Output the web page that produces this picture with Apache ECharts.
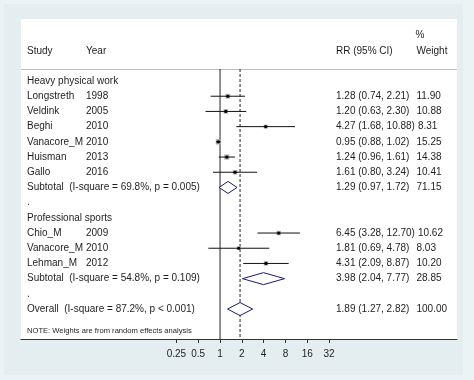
<!DOCTYPE html>
<html><head><meta charset="utf-8">
<script src="https://cdn.jsdelivr.net/npm/echarts@6/dist/echarts.min.js"></script>
<style>html,body{margin:0;padding:0;background:#ecf3f5}#c{width:474px;height:380px}</style>
</head><body><div id="c"></div>
<script>
// ---- data ----
const groups = ['Heavy physical work', 'Professional sports'];
const studies = ['Longstreth', 'Veldink', 'Beghi', 'Vanacore_M', 'Huisman', 'Gallo', 'Chio_M', 'Vanacore_M', 'Lehman_M'];
const years = [1998, 2005, 2010, 2010, 2013, 2016, 2009, 2010, 2012];
const studyGroup = [0, 0, 0, 0, 0, 0, 1, 1, 1];
const rr = [1.28, 1.20, 4.27, 0.95, 1.24, 1.61, 6.45, 1.81, 4.31];
const ciLow = [0.74, 0.63, 1.68, 0.88, 0.96, 0.80, 3.28, 0.69, 2.09];
const ciHigh = [2.21, 2.30, 10.88, 1.02, 1.61, 3.24, 12.70, 4.78, 8.87];
const weights = [11.90, 10.88, 8.31, 15.25, 14.38, 10.41, 10.62, 8.03, 10.20];
const subRR = [1.29, 3.98];
const subLow = [0.97, 2.04];
const subHigh = [1.72, 7.77];
const subWeight = [71.15, 28.85];
const subI2 = [69.8, 54.8];
const subP = ['p = 0.005', 'p = 0.109'];
const overallRR = 1.89, overallLow = 1.27, overallHigh = 2.82, overallWeight = 100.00;
const overallI2 = 87.2, overallP = 'p < 0.001';
const tickValues = [0.25, 0.5, 1, 2, 4, 8, 16, 32];
const noteText = 'NOTE: Weights are from random effects analysis';

// ---- layout ----
const FONT = '"Liberation Sans", Arial, sans-serif';
const X_MIN = -9.13, X_MAX = 10.87;   // log2 extent of the panel
const Y_MIN = -4.08, Y_MAX = 16.97;   // row extent
const HEADER_ROW = -0.79;
const COL_STUDY = 27, COL_YEAR = 86, COL_RR = 336, COL_W = 416.5;
const TXT = '#1e1e1e';

const lg = v => Math.log2(v);
const fmtCI = (m, l, h) => m.toFixed(2) + ' (' + l.toFixed(2) + ', ' + h.toFixed(2) + ')';

const textRows = [], studyRows = [], diamondRows = [];
let r = 0;
groups.forEach((g, gi) => {
  textRows.push({row: r, left: g}); r++;
  studies.forEach((s, i) => {
    if (studyGroup[i] !== gi) return;
    textRows.push({row: r, left: s, year: String(years[i]), rr: fmtCI(rr[i], ciLow[i], ciHigh[i]), w: weights[i].toFixed(2)});
    studyRows.push({row: r, rr: rr[i], lo: ciLow[i], hi: ciHigh[i], w: weights[i]});
    r++;
  });
  textRows.push({row: r, left: 'Subtotal  (I-square = ' + subI2[gi].toFixed(1) + '%, ' + subP[gi] + ')',
    rr: fmtCI(subRR[gi], subLow[gi], subHigh[gi]), w: subWeight[gi].toFixed(2)});
  diamondRows.push({row: r, rr: subRR[gi], lo: subLow[gi], hi: subHigh[gi], h: 6});
  r++;
  textRows.push({row: r, left: '.'}); r++;
});
textRows.push({row: r, left: 'Overall  (I-square = ' + overallI2.toFixed(1) + '%, ' + overallP + ')',
  rr: fmtCI(overallRR, overallLow, overallHigh), w: overallWeight.toFixed(2)});
diamondRows.push({row: r, rr: overallRR, lo: overallLow, hi: overallHigh, h: 6.5});
r++;
textRows.push({row: r, left: noteText, size: 7.6, dy: 7});
textRows.push({row: -1.97, left: 'Study', year: 'Year', rr: 'RR (95% CI)', w: 'Weight'});
textRows.push({row: -3.03, w: '%', wx: 415.5});

const mctx = document.createElement('canvas').getContext('2d');
mctx.font = '10px ' + FONT;

function renderText(params, api) {
  const t = textRows[params.dataIndex];
  const y = api.coord([0, t.row])[1] + (t.dy || 0);
  const size = t.size || 10;
  const ch = [];
  const add = (x, text) => ch.push({type: 'text', x: x, y: y,
    style: {text: text, fill: TXT, font: size + 'px ' + FONT, align: 'left', verticalAlign: 'middle'}});
  if (t.left) add(COL_STUDY, t.left);
  if (t.year) add(COL_YEAR, t.year);
  if (t.rr) add(COL_RR, t.rr);
  if (t.w) {
    let wx = t.wx || COL_W;
    if (t.rr) wx = Math.max(wx, COL_RR + mctx.measureText(t.rr).width + 3);
    add(wx, t.w);
  }
  return {type: 'group', children: ch};
}

function renderStudy(params, api) {
  const s = studyRows[params.dataIndex];
  const a = api.coord([lg(s.lo), s.row]);
  const b = api.coord([lg(s.hi), s.row]);
  const c = api.coord([lg(s.rr), s.row]);
  const side = 1.35 * Math.sqrt(s.w);
  return {type: 'group', children: [
    {type: 'rect', shape: {x: c[0] - side / 2, y: c[1] - side / 2, width: side, height: side}, style: {fill: '#a8a8a8'}},
    {type: 'line', shape: {x1: a[0], y1: a[1], x2: b[0], y2: b[1]}, style: {stroke: '#111', lineWidth: 1}},
    {type: 'circle', shape: {cx: c[0], cy: c[1], r: 1.6}, style: {fill: '#000'}}
  ]};
}

function renderDiamond(params, api) {
  const d = diamondRows[params.dataIndex];
  const a = api.coord([lg(d.lo), d.row]);
  const b = api.coord([lg(d.hi), d.row]);
  const c = api.coord([lg(d.rr), d.row]);
  return {type: 'polygon', shape: {points: [[a[0], a[1]], [c[0], c[1] - d.h], [b[0], b[1]], [c[0], c[1] + d.h]]},
    style: {fill: '#fff', stroke: '#1b1b6e', lineWidth: 1}};
}

function renderRefLines(params, api) {
  const n1 = api.coord([lg(1), HEADER_ROW]);
  const n2 = api.coord([lg(1), Y_MAX]);
  const o1 = api.coord([lg(overallRR), HEADER_ROW]);
  const o2 = api.coord([lg(overallRR), Y_MAX]);
  return {type: 'group', children: [
    {type: 'line', shape: {x1: n1[0], y1: n1[1], x2: n2[0], y2: n2[1]}, style: {stroke: '#222', lineWidth: 1}},
    {type: 'line', shape: {x1: o1[0], y1: o1[1], x2: o2[0], y2: o2[1]}, style: {stroke: '#222', lineWidth: 1, lineDash: [3, 2]}}
  ]};
}

function renderHeaderLine(params, api) {
  const h1 = api.coord([X_MIN, HEADER_ROW]);
  const h2 = api.coord([X_MAX, HEADER_ROW]);
  const hy = Math.round(h1[1]) + 0.5;
  return {type: 'rect', shape: {x: h1[0], y: hy - 0.5, width: h2[0] - h1[0], height: 1}, style: {fill: '#bdbdbd'}};
}

const chart = echarts.init(document.getElementById('c'), null, {renderer: 'canvas'});
chart.setOption({
  backgroundColor: '#ecf3f5',
  animation: false,
  graphic: [{type: 'rect', z: -10, shape: {x: 4, y: 4, width: 459, height: 371}, style: {fill: '#e4eef1'}}],
  grid: {left: 21, right: 17, top: 19, bottom: 41, show: true, backgroundColor: '#ffffff', borderWidth: 0},
  xAxis: {
    type: 'value', min: X_MIN, max: X_MAX,
    axisLine: {onZero: false, lineStyle: {color: '#333', width: 1}},
    axisTick: {length: 4, lineStyle: {color: '#333'}, customValues: tickValues.map(lg)},
    axisLabel: {customValues: tickValues.map(lg), color: TXT, fontSize: 10, fontFamily: FONT, margin: 10,
      formatter: v => String(Math.round(Math.pow(2, v) * 100) / 100)},
    splitLine: {show: false}
  },
  yAxis: {type: 'value', inverse: true, min: Y_MIN, max: Y_MAX, show: false},
  series: [
    {type: 'custom', renderItem: renderHeaderLine, data: [[0, HEADER_ROW]], silent: true, z: 1},
    {type: 'custom', renderItem: renderRefLines, data: [[0, 0]], silent: true, z: 2},
    {type: 'custom', renderItem: renderStudy, data: studyRows.map(s => [lg(s.rr), s.row]), z: 3},
    {type: 'custom', renderItem: renderDiamond, data: diamondRows.map(d => [lg(d.rr), d.row]), z: 3},
    {type: 'custom', renderItem: renderText, data: textRows.map(t => [0, t.row]), z: 4}
  ]
});
</script></body></html>
